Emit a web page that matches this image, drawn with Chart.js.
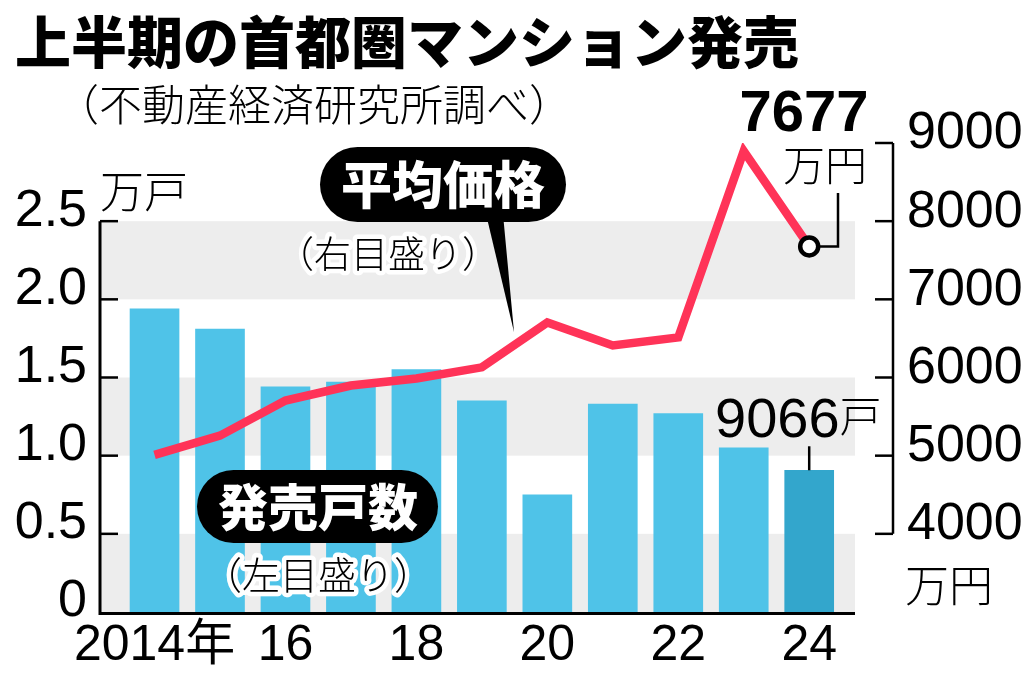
<!DOCTYPE html>
<html>
<head>
<meta charset="utf-8">
<script src="https://cdn.jsdelivr.net/npm/chart.js@4/dist/chart.umd.min.js"></script>
<style>
html,body{margin:0;padding:0;background:#fff;}
#wrap{position:relative;width:1024px;height:681px;}
canvas{display:block;}
</style>
</head>
<body>
<div id="wrap"><canvas id="c" width="1024" height="681"></canvas></div>
<script>
// ---- data ----
const years = [2014, 2015, 2016, 2017, 2018, 2019, 2020, 2021, 2022, 2023, 2024];
const unitsMan = [1.94, 1.81, 1.44, 1.47, 1.55, 1.35, 0.75, 1.33, 1.27, 1.05, 0.9066]; // 万戸
const priceMan = [5010, 5256, 5705, 5897, 5987, 6130, 6705, 6410, 6513, 8897, 7677]; // 万円
const xTickYears = [2014, 2016, 2018, 2020, 2022, 2024];
const xTickLabels = ['2014年', '16', '18', '20', '22', '24'];
const leftTicks = [0, 0.5, 1.0, 1.5, 2.0, 2.5];
const leftTickLabels = ['0', '0.5', '1.0', '1.5', '2.0', '2.5'];
const rightTicks = [4000, 5000, 6000, 7000, 8000, 9000];
const rightTickLabels = ['4000', '5000', '6000', '7000', '8000', '9000'];
const grayBands = [[0, 0.5], [1.0, 1.5], [2.0, 2.5]];

const BAR = '#4FC3E8', BAR_LAST = '#33A6CC', LINE = '#FF3358', BAND = '#EDEDED';
const CJK = '"Noto Sans CJK JP", "Noto Sans CJK SC", sans-serif';
const NUM = '"Liberation Sans", Arial, "Noto Sans CJK JP", sans-serif';

const barData = years.map((y, i) => ({x: y, y: unitsMan[i]}));
const lineData = years.map((y, i) => ({x: y, y: priceMan[i]}));

function haloText(ctx, txt, x, y) {
  ctx.save();
  ctx.lineJoin = 'round';
  ctx.strokeStyle = '#fff';
  ctx.lineWidth = 9;
  ctx.strokeText(txt, x, y);
  ctx.fillStyle = '#000';
  ctx.fillText(txt, x, y);
  ctx.restore();
}
function pill(ctx, x0, y0, x1, y1) {
  const r = (y1 - y0) / 2;
  ctx.beginPath();
  ctx.moveTo(x0 + r, y0);
  ctx.lineTo(x1 - r, y0);
  ctx.arc(x1 - r, y0 + r, r, -Math.PI / 2, Math.PI / 2);
  ctx.lineTo(x0 + r, y1);
  ctx.arc(x0 + r, y0 + r, r, Math.PI / 2, Math.PI * 1.5);
  ctx.closePath();
  ctx.fill();
}

const decor = {
  id: 'decor',
  beforeDatasetsDraw(chart) {
    const {ctx, chartArea: a, scales} = chart;
    const yL = scales.y;
    const bandRight = a.right - 38;
    ctx.save();
    ctx.fillStyle = BAND;
    grayBands.forEach(([lo, hi]) => {
      const t = yL.getPixelForValue(hi), b = yL.getPixelForValue(lo);
      ctx.fillRect(a.left, t, bandRight - a.left, b - t);
    });
    ctx.restore();
  },
  afterDatasetsDraw(chart) {
    const {ctx, chartArea: a, scales} = chart;
    const yL = scales.y, yR = scales.y2, x = scales.x;
    const bandRight = a.right - 38;
    ctx.save();
    ctx.strokeStyle = '#000';
    ctx.lineCap = 'butt';
    // left axis
    ctx.lineWidth = 3;
    ctx.beginPath();
    ctx.moveTo(a.left, yL.getPixelForValue(2.5));
    ctx.lineTo(a.left, yL.getPixelForValue(0) + 1.5);
    ctx.lineTo(bandRight, yL.getPixelForValue(0) + 1.5);
    ctx.stroke();
    ctx.lineWidth = 2.5;
    leftTicks.slice(1).forEach(v => {
      const py = yL.getPixelForValue(v);
      ctx.beginPath(); ctx.moveTo(a.left, py); ctx.lineTo(a.left + 18, py); ctx.stroke();
    });
    // right axis
    ctx.lineWidth = 2.5;
    ctx.beginPath();
    ctx.moveTo(a.right, yR.getPixelForValue(9000));
    ctx.lineTo(a.right, yR.getPixelForValue(4000));
    ctx.stroke();
    rightTicks.forEach(v => {
      const py = yR.getPixelForValue(v);
      ctx.beginPath(); ctx.moveTo(a.right - 18, py); ctx.lineTo(a.right, py); ctx.stroke();
    });

    // title & subtitle
    ctx.fillStyle = '#000';
    ctx.textBaseline = 'middle';
    ctx.textAlign = 'left';
    ctx.font = '900 56px ' + CJK;
    ctx.fillText('上半期の首都圏マンション発売', 15, 42);
    ctx.font = '300 43px ' + CJK;
    ctx.fillText('（不動産経済研究所調べ）', 56, 105);

    // unit labels
    ctx.font = '300 44px ' + CJK;
    ctx.fillText('万戸', a.left, 191);
    ctx.font = '300 42px ' + CJK;
    ctx.fillText('万円', 783, 165);
    ctx.font = '300 44px ' + CJK;
    ctx.fillText('万円', 905, 585);

    // last price label
    const n = years.length - 1;
    const px = x.getPixelForValue(years[n]);
    const py = yR.getPixelForValue(priceMan[n]);
    ctx.textBaseline = 'alphabetic';
    ctx.textAlign = 'center';
    ctx.font = 'bold 58px ' + NUM;
    ctx.fillText(String(priceMan[n]), 804, 131);
    ctx.lineWidth = 2.5;
    ctx.beginPath();
    ctx.moveTo(px + 10, py);
    ctx.lineTo(838, py);
    ctx.lineTo(838, 193);
    ctx.stroke();

    // last units label
    const by = yL.getPixelForValue(unitsMan[n]);
    ctx.textAlign = 'left';
    ctx.font = '56px ' + NUM;
    const numTxt = String(Math.round(unitsMan[n] * 10000));
    ctx.fillText(numTxt, 715, 437);
    const w = ctx.measureText(numTxt).width;
    ctx.font = '300 42px ' + CJK;
    ctx.textBaseline = 'middle';
    ctx.fillText('戸', 715 + w, 416);
    ctx.beginPath();
    ctx.moveTo(px, by - 24);
    ctx.lineTo(px, by);
    ctx.stroke();

    // callout: 平均価格
    ctx.fillStyle = '#000';
    pill(ctx, 320, 147, 566, 222);
    ctx.beginPath();
    ctx.moveTo(486, 214); ctx.lineTo(503, 214); ctx.lineTo(514, 332); ctx.closePath(); ctx.fill();
    ctx.fillStyle = '#fff';
    ctx.textAlign = 'center';
    ctx.textBaseline = 'middle';
    ctx.font = '900 51px ' + CJK;
    ctx.fillText('平均価格', 443, 185);
    ctx.font = '300 37px ' + CJK;
    haloText(ctx, '（右目盛り）', 388, 254);

    // callout: 発売戸数
    ctx.fillStyle = '#000';
    pill(ctx, 197, 470, 438, 543);
    ctx.fillStyle = '#fff';
    ctx.font = '900 50px ' + CJK;
    ctx.fillText('発売戸数', 318, 507);
    ctx.font = '300 38px ' + CJK;
    haloText(ctx, '（左目盛り）', 318, 575);
    ctx.restore();
  }
};

Chart.defaults.color = '#000';
new Chart(document.getElementById('c'), {
  type: 'bar',
  data: {
    datasets: [
      {
        type: 'line',
        data: lineData,
        yAxisID: 'y2',
        borderColor: LINE,
        borderWidth: 8.5,
        borderJoinStyle: 'miter',
        tension: 0,
        fill: false,
        order: 1,
        pointRadius: ctx => ctx.dataIndex === years.length - 1 ? 9 : 0,
        pointHoverRadius: 0,
        pointBackgroundColor: '#fff',
        pointBorderColor: '#000',
        pointBorderWidth: 4.5
      },
      {
        type: 'bar',
        data: barData,
        yAxisID: 'y',
        backgroundColor: years.map((y, i) => i === years.length - 1 ? BAR_LAST : BAR),
        barThickness: 49,
        order: 2
      }
    ]
  },
  options: {
    responsive: false,
    animation: false,
    devicePixelRatio: 1,
    events: [],
    layout: {padding: {top: 143, left: 0, right: 0, bottom: 0}},
    plugins: {legend: {display: false}, tooltip: {enabled: false}, title: {display: false}},
    scales: {
      x: {
        type: 'linear',
        offset: false,
        bounds: 'data',
        min: years[0] - 0.833,
        max: years[years.length - 1] + 1.28,
        grid: {display: false, drawTicks: false, offset: false},
        border: {display: false},
        afterBuildTicks: s => { s.ticks = xTickYears.map(v => ({value: v})); },
        afterFit: s => { s.height = 69; },
        ticks: {
          autoSkip: false,
          maxRotation: 0,
          padding: 4,
          font: {family: NUM, size: 50},
          callback: v => { const i = xTickYears.indexOf(v); return i >= 0 ? xTickLabels[i] : ''; }
        }
      },
      y: {
        position: 'left',
        min: 0,
        max: 3.0,
        grid: {display: false, drawTicks: false},
        border: {display: false},
        afterBuildTicks: s => { s.ticks = leftTicks.map(v => ({value: v})); },
        afterFit: s => { s.width = 100; },
        ticks: {
          padding: 13,
          labelOffset: -10,
          font: {family: NUM, size: 52},
          callback: v => { const i = leftTicks.indexOf(v); return i >= 0 ? leftTickLabels[i] : ''; }
        }
      },
      y2: {
        position: 'right',
        min: 3000,
        max: 9000,
        grid: {display: false, drawTicks: false},
        border: {display: false},
        afterBuildTicks: s => { s.ticks = rightTicks.map(v => ({value: v})); },
        afterFit: s => { s.width = 131; },
        ticks: {
          padding: 14,
          labelOffset: -9,
          font: {family: NUM, size: 52},
          callback: v => { const i = rightTicks.indexOf(v); return i >= 0 ? rightTickLabels[i] : ''; }
        }
      }
    }
  },
  plugins: [decor]
});
</script>
</body>
</html>
